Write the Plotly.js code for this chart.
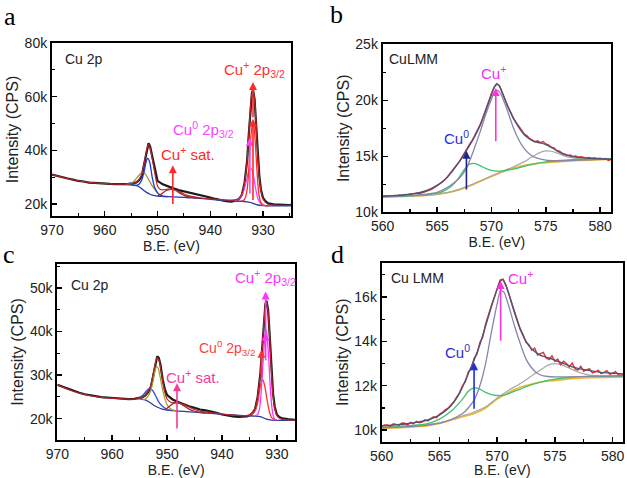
<!DOCTYPE html>
<html>
<head>
<meta charset="utf-8">
<script src="https://cdn.plot.ly/plotly-3.0.1.min.js"></script>
<style>
  body { margin: 0; background: #fff; }
  #myDiv { width: 627px; height: 478px; }
</style>
</head>
<body>
<div id="myDiv"></div>
<script>
// ---- (a) Cu 2p, sample 1 ----
const aBE = [970,969,968,967,966,965,964,963,962,961,960,959,958,957,956,955.5,955,954.5,954,953.5,953,952.5,952,951.7,951.4,951,950.5,950,949,948,947,946,945,944,943,942,941,940,939,938,937,936,935.5,935,934.5,934,933.5,933,932.7,932.4,932.1,931.9,931.6,931.3,931,930.7,930.4,930,929.5,929,928,927,926,925,924.7];
const aRaw = [31000,30450,30050,29550,29150,28650,28450,28050,27950,27750,27700,27550,27500,27400,27500,27600,27650,27850,28100,28900,30400,35000,40500,42700,41500,37600,32200,28700,27400,26500,25900,25250,24800,24450,24100,23550,23100,22500,21950,21400,21100,20950,21050,21350,22000,23500,28000,36500,46000,56000,61500,62600,59000,49500,38500,30500,25500,22300,21000,20300,19950,19750,19800,19700,19750];
const aFitBE = [970,968,966,964,962,960,958,956,955,954.5,954,953.5,953,952.5,952,951.7,951.4,951,950.5,950,949.5,949,948,947,946,945,944,943,942,940,938,936,935,934.5,934,933.5,933,932.7,932.4,932.1,931.9,931.6,931.3,931,930.7,930.4,930,929.5,929,928,926,924.7];
const aFit = [31000,30000,29100,28400,27900,27700,27500,27450,27600,27800,28200,29200,31000,35500,40800,42300,41000,37000,31500,26800,25600,25300,25600,25500,24800,23800,23100,22700,22400,22000,21700,21500,21700,22300,23800,28000,36500,46000,55500,61500,62500,59000,49000,38000,30000,25000,22000,20600,20000,19700,19600,19600];
const aBgBE = [956,955,954,953.5,953,952.5,952,951.5,951,950,948,946,944,942,940,938,936,934,933,932.5,932,931.5,931,930,928,926,924.7];
const aBg = [27300,27200,26900,26500,25800,25000,24300,23800,23400,23000,22800,22600,22400,22200,21800,21400,21200,21100,20900,20700,20400,20000,19700,19500,19400,19400,19400];
const aBlueBE = [955,954,953.5,953,952.5,952.2,952,951.8,951.5,951.2,951,950.5,950,949.5,949,948];
const aBlue = [27250,27000,27400,29000,32500,35500,36800,37000,35800,32500,30000,26000,24200,23400,23000,22800];
const aOliveBE = [956,955,954.5,954,953.5,953,952.7,952.3,952,951.5,951,950.5,950,949.5,949,948];
const aOlive = [27400,27800,28500,29600,30800,31700,31800,31200,30300,28500,26800,25400,24300,23500,23000,22800];
const aSatBE = [950,949.5,949,948.5,948,947.5,947,946.5,946,945.5,945,944,943,942];
const aSat = [23100,23500,24200,24900,25300,25500,25400,25000,24400,23800,23300,22700,22400,22200];
const aMagBE = [935.5,935,934.5,934,933.5,933,932.7,932.4,932.1,931.8,931.5,931.2,931,930.5,930,929.5];
const aMag = [21300,21500,22000,23300,26000,30000,32500,33300,32800,30500,27000,23800,22200,20300,19600,19450];
const aRedBE = [934,933.5,933,932.7,932.4,932.1,931.9,931.7,931.4,931.1,930.8,930.5,930,929.5,929];
const aRed = [21100,21800,25500,33000,43000,48500,50000,48500,41000,31000,24000,21000,19800,19500,19400];

// ---- shared Auger energy grid (b, d) ----
const augerBE = [560,560.25,560.5,560.75,561,561.25,561.5,561.75,562,562.25,562.5,562.75,563,563.25,563.5,563.75,564,564.25,564.5,564.75,565,565.25,565.5,565.75,566,566.25,566.5,566.75,567,567.25,567.5,567.75,568,568.25,568.5,568.75,569,569.25,569.5,569.75,570,570.25,570.5,570.75,571,571.25,571.5,571.75,572,572.25,572.5,572.75,573,573.25,573.5,573.75,574,574.25,574.5,574.75,575,575.25,575.5,575.75,576,576.25,576.5,576.75,577,577.25,577.5,577.75,578,578.25,578.5,578.75,579,579.25,579.5,579.75,580,580.25,580.5,580.75,581];

// ---- (b) CuLMM, sample 1 ----
const bRaw = [11430,11470,11460,11420,11510,11490,11530,11500,11580,11560,11600,11650,11640,11720,11700,11810,11880,11960,12050,12200,
              12400,12550,12720,12920,13230,13450,13850,14100,14480,14850,15300,15620,16080,16450,16920,17380,17900,18550,19250,19950,
              20600,21150,21480,21280,20650,20080,19420,18950,18400,18050,17650,17380,17000,16850,16600,16480,16300,16380,16220,16320,
              16100,16020,15820,15760,15520,15450,15280,15200,15080,15120,14980,15020,14920,14960,14870,14830,14900,14800,14860,14780,
              14820,14740,14800,14620,14700];
const bFitBE = [560,561,562,563,564,565,565.5,566,566.5,567,567.5,568,568.5,569,569.5,570,570.25,570.5,570.75,571,571.5,572,572.5,573,573.5,574,574.5,575,575.5,576,576.5,577,577.5,578,579,580,581];
const bFit = [11430,11490,11570,11690,11920,12400,12750,13200,13800,14450,15200,16000,16850,17850,19150,20500,21150,21450,21250,20700,19500,18450,17600,16950,16550,16300,16200,16050,15800,15500,15250,15080,14970,14900,14830,14780,14740];
const bCuIBE = [560,562,564,565,566,566.5,567,567.5,568,568.5,569,569.5,570,570.25,570.5,570.75,571,571.5,572,572.5,573,573.5,574,575,576,577,578,580,581];
const bCuI = [11400,11470,11620,11780,12250,12600,13000,13600,14600,15900,17300,18800,20100,20700,20900,20750,20300,19000,17600,16500,15700,15200,14900,14650,14600,14620,14650,14720,14730];
const bCu0BE = [560,562,564,565,565.5,566,566.5,567,567.5,568,568.5,569,569.5,570,570.5,571,572,573,574,575,576,577,578,579,580,581];
const bCu0 = [11400,11450,11560,11700,11850,12100,12500,13100,13800,14300,14350,14150,13900,13750,13680,13700,13850,14100,14350,14500,14600,14680,14720,14750,14770,14780];
const bSatBE = [560,562,564,566,567,568,569,570,571,572,573,573.5,574,574.5,575,575.5,576,576.5,577,578,579,580,581];
const bSat = [11400,11440,11530,11780,12050,12400,12820,13250,13650,14050,14500,14800,15100,15350,15480,15450,15300,15100,14950,14800,14760,14750,14750];
const bBgBE = [560,562,564,565,566,567,568,569,570,571,572,573,574,575,576,578,580,581];
const bBg = [11370,11410,11510,11600,11750,12000,12350,12780,13200,13600,13950,14180,14320,14420,14500,14620,14700,14730];

// ---- (c) Cu 2p, sample 2 ----
const cBE = [970,969,968,967,966,965,964,963,962,961,960,959,958,957,956,955.5,955,954.5,954,953.5,953,952.5,952,951.8,951.5,951.2,950.8,950.4,950,949.5,949,948,947,946,945,944,943,942,941,940,939,938,937,936,935.5,935,934.5,934,933.5,933,932.7,932.4,932.1,931.9,931.6,931.3,931,930.7,930.4,930,929.5,929,928,927,926.7];
const cRaw = [27800,27300,26850,26300,25950,25600,25350,25100,24950,24850,24750,24650,24600,24500,24550,24650,24750,24950,25300,26000,27000,30300,33500,34300,33900,32300,29000,26700,25400,24800,24400,23800,23300,22850,22500,22100,21900,21650,21350,20950,20700,20500,20400,20400,20500,20700,21200,22100,25000,30500,35800,41600,46200,47100,45000,38900,31300,25800,22800,20900,20300,20100,19900,19800,19750];
const cFitBE = [970,968,966,964,962,960,958,956,955,954.5,954,953.5,953,952.5,952,951.8,951.5,951.2,950.8,950.4,950,949.5,949,948.5,948,947,946,945,944,942,940,938,936,935,934.5,934,933.5,933,932.7,932.4,932.1,931.9,931.6,931.3,931,930.7,930.4,930,929.5,929,928,926.7];
const cFit = [27700,26700,25850,25250,24900,24700,24550,24500,24700,24950,25350,26200,27500,30500,33400,34000,33500,31800,28600,26000,24500,23900,23700,23650,23600,23300,22700,22100,21700,21400,21050,20800,20650,20800,21300,22300,25200,30500,35600,41300,45800,46800,44600,38500,30800,25300,22300,20700,20100,19850,19700,19650];
const cBgBE = [955.5,955,954,953.5,953,952.5,952,951.5,951,950,948,946,944,942,940,938,936,934,933,932.5,932,931.5,931,930,928,926.7];
const cBg = [24600,24550,24300,24000,23600,23150,22800,22500,22250,21950,21750,21550,21400,21200,21000,20850,20700,20600,20450,20200,19950,19750,19650,19600,19600,19600];
const cBlueBE = [955.5,955,954.5,954,953.5,953.2,953,952.5,952,951.5,951,950.5,950,949];
const cBlue = [24650,24800,25300,26000,26700,27000,26950,26200,25000,23800,23000,22500,22100,21850];
const cOliveBE = [954.5,954,953.5,953,952.5,952.2,951.9,951.6,951.3,951,950.5,950,949.5,949,948.5];
const cOlive = [24400,24500,25100,26300,29000,31000,32000,31500,29800,27800,25000,23200,22400,22000,21850];
const cSatBE = [950.5,950,949.5,949,948.5,948,947.5,947,946.5,946,945,944,943];
const cSat = [22100,22400,22900,23400,23600,23600,23400,23000,22600,22200,21700,21450,21300];
const cRedBE = [935.5,935,934.5,934,933.5,933.2,932.9,932.7,932.5,932.2,931.9,931.6,931.3,931,930.5,930];
const cRed = [20750,20800,21100,21700,23600,26000,28200,29000,28800,27400,25200,23000,21300,20300,19800,19650];
const cMagBE = [934,933.5,933.2,932.9,932.6,932.3,932.05,931.8,931.5,931.2,930.9,930.6,930.3,930];
const cMag = [20650,21000,22000,25500,31500,37000,40500,39200,34000,27000,22500,20400,19800,19650];

// ---- (d) Cu LMM, sample 2 ----
const dRaw = [10180,10240,10230,10170,10290,10250,10220,10320,10310,10240,10350,10290,10400,10330,10360,10470,10420,10520,10600,10560,
              10710,10800,10920,10990,11150,11280,11500,11680,12010,12180,12620,12760,13240,13420,13950,14180,14780,15250,15620,15980,
              16380,16760,16800,16520,16150,15750,15300,14950,14550,14300,13950,13850,13600,13700,13380,13450,13500,13250,13180,13350,
              13100,13200,12950,13100,13000,12850,13020,12760,12700,12880,12650,12720,12760,12580,12620,12700,12540,12600,12680,12520,
              12560,12640,12500,12460,12560];
const dFitBE = [560,561,562,563,564,565,565.5,566,566.5,567,567.5,568,568.5,569,569.5,570,570.25,570.5,570.75,571,571.5,572,572.5,573,573.5,574,574.5,575,575.5,576,576.5,577,578,579,580,581];
const dFit = [10180,10230,10280,10350,10460,10680,10860,11100,11450,11950,12550,13150,13850,14700,15550,16350,16680,16780,16550,16150,15300,14550,14000,13650,13450,13320,13250,13150,13050,12950,12850,12780,12680,12600,12560,12530];
const dCuIBE = [560,563,565,566,567,567.5,568,568.5,569,569.5,570,570.3,570.6,571,571.5,572,572.5,573,573.5,574,575,576,578,581];
const dCuI = [10100,10180,10320,10480,10750,11000,11350,12000,13000,14400,15700,16300,16200,15600,14700,13900,13200,12800,12550,12450,12400,12400,12420,12450];
const dCu0BE = [560,562,564,565,566,567,567.5,568,568.5,569,569.5,570,570.5,571,572,573,574,575,576,578,581];
const dCu0 = [10120,10180,10300,10500,10850,11400,11750,11900,11850,11700,11600,11560,11570,11650,11850,12050,12200,12300,12360,12420,12450];
const dSatBE = [560,565,567,568,569,570,571,572,573,574,574.5,575,575.5,576,577,578,579,581];
const dSat = [10120,10330,10650,10820,11050,11450,11800,12100,12450,12800,12950,13000,12950,12850,12620,12480,12440,12450];
const dBgBE = [560,562,564,565,566,567,568,569,570,571,572,573,574,575,576,578,581];
const dBg = [10080,10120,10200,10300,10450,10600,10750,11000,11400,11700,11930,12080,12180,12240,12300,12360,12400];

const FONT = "Liberation Sans, Arial, sans-serif";

function line(x, y, color, width, xa, ya, shape) {
    return {
        x: x, y: y, xaxis: xa, yaxis: ya,
        type: "scatter", mode: "lines",
        line: {color: color, width: width, shape: shape || "spline", smoothing: 0.6},
        hoverinfo: "skip"
    };
}

var data = [
    // a
    line(aBE, aRaw, "#1a1a1a", 2.2, "x", "y", "linear"),
    line(aBgBE, aBg, "#2b3a9e", 1.3, "x", "y"),
    line(aOliveBE, aOlive, "#9c9a35", 1.3, "x", "y"),
    line(aBlueBE, aBlue, "#2035e0", 1.3, "x", "y"),
    line(aSatBE, aSat, "#a52a2a", 1.3, "x", "y"),
    line(aMagBE, aMag, "#ff44ff", 1.3, "x", "y"),
    line(aRedBE, aRed, "#ff2a2a", 1.3, "x", "y"),
    line(aFitBE, aFit, "#b3262a", 1.2, "x", "y"),
    // b
    line(bBgBE, bBg, "#f0b429", 1.6, "x2", "y2"),
    line(bSatBE, bSat, "#a8a8a8", 1.2, "x2", "y2"),
    line(bCu0BE, bCu0, "#3cc46a", 1.3, "x2", "y2"),
    line(augerBE, bRaw, "#e8302a", 1.4, "x2", "y2", "linear"),
    line(bCuIBE, bCuI, "#8686aa", 1.3, "x2", "y2"),
    line(bFitBE, bFit, "#4c5478", 1.4, "x2", "y2"),
    // c
    line(cBE, cRaw, "#1a1a1a", 2.2, "x3", "y3", "linear"),
    line(cBgBE, cBg, "#2b3a9e", 1.3, "x3", "y3"),
    line(cBlueBE, cBlue, "#3050d8", 1.3, "x3", "y3"),
    line(cOliveBE, cOlive, "#a3a030", 1.3, "x3", "y3"),
    line(cSatBE, cSat, "#a52a2a", 1.3, "x3", "y3"),
    line(cRedBE, cRed, "#ff3030", 1.3, "x3", "y3"),
    line(cMagBE, cMag, "#ff33ff", 1.3, "x3", "y3"),
    line(cFitBE, cFit, "#b3262a", 1.2, "x3", "y3"),
    // d
    line(dBgBE, dBg, "#f0b429", 1.6, "x4", "y4"),
    line(dSatBE, dSat, "#a8a8a8", 1.2, "x4", "y4"),
    line(dCu0BE, dCu0, "#3cc46a", 1.3, "x4", "y4"),
    line(augerBE, dRaw, "#e8302a", 1.4, "x4", "y4", "linear"),
    line(dCuIBE, dCuI, "#8686aa", 1.3, "x4", "y4"),
    line(dFitBE, dFit, "#4c5478", 1.4, "x4", "y4")
];

function axis(domain, range, dtick, minor, anchor, title, titleSize) {
    return {
        domain: domain, range: range, anchor: anchor,
        autorange: false, fixedrange: true,
        dtick: dtick, tick0: 0, tickformat: "~s",
        ticks: "inside", ticklen: 5, tickwidth: 1.5, tickcolor: "#000",
        minor: {dtick: minor, ticks: "inside", ticklen: 3, tickwidth: 1.2, tickcolor: "#000"},
        showline: true, mirror: true, linecolor: "#000", linewidth: 2,
        showgrid: false, zeroline: false, automargin: false,
        tickfont: {family: FONT, size: 14, color: "#222"},
        title: {text: title, standoff: 2, font: {family: FONT, size: titleSize, color: "#222"}}
    };
}

function arrow(xa, ya, x, y0, y1, color) {
    return {
        xref: xa, yref: ya, axref: xa, ayref: ya,
        x: x, y: y1, ax: x, ay: y0, text: "",
        showarrow: true, arrowhead: 2, arrowsize: 1, arrowwidth: 1.6,
        arrowcolor: color, standoff: 0, startstandoff: 0
    };
}

function label(xa, ya, x, y, text, color, size, anchor) {
    return {
        xref: xa, yref: ya, x: x, y: y, text: text, showarrow: false,
        xanchor: anchor || "center", yanchor: "middle",
        font: {family: FONT, size: size, color: color}
    };
}

function letter(x, y, text) {
    return {
        xref: "paper", yref: "paper", x: x, y: y, text: text, showarrow: false,
        xanchor: "center", yanchor: "middle",
        font: {family: "Liberation Serif, Times New Roman, serif", size: 26, color: "#000"}
    };
}

var layout = {
    width: 627, height: 478,
    margin: {l: 0, r: 0, t: 0, b: 0},
    paper_bgcolor: "#fff", plot_bgcolor: "#fff",
    showlegend: false,
    xaxis: axis([0.0829, 0.4641], [970, 924.7], 10, 5, "y", "B.E. (eV)", 14),
    yaxis: axis([0.5481, 0.9100], [15600, 80000], 20000, 10000, "x", "Intensity (CPS)", 16),
    xaxis2: axis([0.6104, 0.9745], [560, 581], 5, 2.5, "y2", "B.E. (eV)", 14),
    yaxis2: axis([0.5559, 0.9073], [10000, 25000], 5000, 2500, "x2", "Intensity (CPS)", 16),
    xaxis3: axis([0.0914, 0.4705], [970, 926.7], 10, 5, "y3", "B.E. (eV)", 14),
    yaxis3: axis([0.0795, 0.4477], [15100, 55500], 10000, 5000, "x3", "Intensity (CPS)", 16),
    xaxis4: axis([0.6088, 0.9936], [560, 580.9], 5, 2.5, "y4", "B.E. (eV)", 14),
    yaxis4: axis([0.0759, 0.4504], [9480, 17540], 2000, 1000, "x4", "Intensity (CPS)", 16),
    annotations: [
        letter(0.016, 0.966, "a"),
        letter(0.537, 0.970, "b"),
        letter(0.015, 0.468, "c"),
        letter(0.539, 0.468, "d"),
        // a
        label("x", "y", 967.9, 74000, "Cu 2p", "#222", 14, "left"),
        label("x", "y", 931.7, 70000, "Cu<sup>+</sup> 2p<sub>3/2</sub>", "#ff3030", 15),
        label("x", "y", 941.3, 47700, "Cu<sup>0</sup> 2p<sub>3/2</sub>", "#ff44ff", 15),
        label("x", "y", 944.2, 38700, "Cu<sup>+</sup> sat.", "#ff2a2a", 15),
        arrow("x", "y", 947.1, 19500, 34500, "#ff2a2a"),
        arrow("x", "y", 932.5, 23300, 44700, "#ff44ff"),
        arrow("x", "y", 931.9, 21000, 51800, "#ff2a2a"),
        arrow("x", "y", 931.9, 51800, 65500, "#ff2a2a"),
        // b
        label("x2", "y2", 560.4, 23700, "CuLMM", "#222", 14, "left"),
        label("x2", "y2", 570.2, 22500, "Cu<sup>+</sup>", "#ee30ee", 15),
        label("x2", "y2", 566.8, 16700, "Cu<sup>0</sup>", "#2e2ed0", 15),
        arrow("x2", "y2", 570.4, 16200, 21100, "#ff33dd"),
        arrow("x2", "y2", 567.7, 11900, 15500, "#1e2590"),
        // c
        label("x3", "y3", 967.8, 50700, "Cu 2p", "#222", 14, "left"),
        label("x3", "y3", 932.0, 52300, "Cu<sup>+</sup> 2p<sub>3/2</sub>", "#ff33ff", 15),
        label("x3", "y3", 939.0, 36200, "Cu<sup>0</sup> 2p<sub>3/2</sub>", "#ff4040", 14),
        label("x3", "y3", 945.3, 29600, "Cu<sup>+</sup> sat.", "#f03c9c", 15),
        arrow("x3", "y3", 948.2, 17400, 28100, "#f03c9c"),
        arrow("x3", "y3", 932.8, 29000, 35800, "#ff3030"),
        arrow("x3", "y3", 932.05, 33000, 39700, "#ff33ff"),
        arrow("x3", "y3", 932.05, 39700, 49200, "#ff33ff"),
        // d
        label("x4", "y4", 560.6, 16860, "Cu LMM", "#222", 14, "left"),
        label("x4", "y4", 572.0, 16860, "Cu<sup>+</sup>", "#ee30ee", 15),
        label("x4", "y4", 566.6, 13550, "Cu<sup>0</sup>", "#2e2ed0", 15),
        arrow("x4", "y4", 568.0, 10900, 13060, "#2030e0"),
        arrow("x4", "y4", 570.3, 13960, 16720, "#ff33dd")
    ]
};

Plotly.newPlot("myDiv", data, layout, {staticPlot: true, displayModeBar: false});
</script>
</body>
</html>
